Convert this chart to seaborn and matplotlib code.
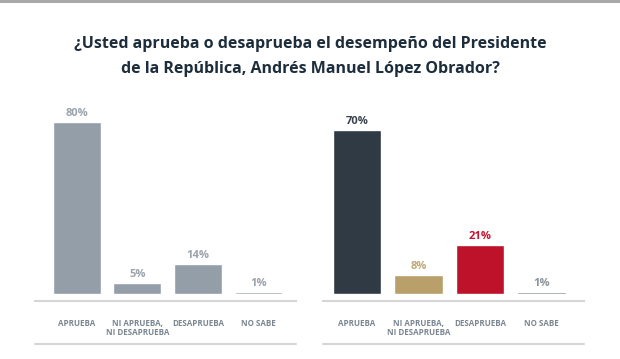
import matplotlib
matplotlib.use("Agg")
import matplotlib.pyplot as plt
import seaborn as sns
import pandas as pd

categorias = ["APRUEBA", "NI APRUEBA,\nNI DESAPRUEBA", "DESAPRUEBA", "NO SABE"]
valores_izq = [80, 5, 14, 1]
valores_der = [70, 8, 21, 1]
etiquetas_izq = ["80%", "5%", "14%", "1%"]
etiquetas_der = ["70%", "8%", "21%", "1%"]

colores_izq = ["#949ea8", "#949ea8", "#949ea8", "#949ea8"]
colores_der = ["#2f3a45", "#b9a06b", "#bd1229", "#7e8791"]
texto_izq = ["#9aa3ac", "#9aa3ac", "#9aa3ac", "#9aa3ac"]
texto_der = ["#3a444e", "#c0a776", "#c8112e", "#8a939c"]

titulo = "¿Usted aprueba o desaprueba el desempeño del Presidente\nde la República, Andrés Manuel López Obrador?"

sns.set_style("white")
plt.rcParams["font.family"] = ["Open Sans", "DejaVu Sans"]

W, H = 620, 359
fig = plt.figure(figsize=(W / 100, H / 100), dpi=100)


def px_axes(x0, x1, y_top, y_bot):
    return fig.add_axes([x0 / W, 1 - y_bot / H, (x1 - x0) / W, (y_bot - y_top) / H])


def panel(ax, valores, etiquetas, colores, colores_txt, xlim, px_unit):
    df = pd.DataFrame({"cat": categorias, "val": valores})
    sns.barplot(data=df, x="cat", y="val", hue="cat", palette=colores,
                width=0.79, legend=False, ax=ax, saturation=1)
    ax.set_xlim(*xlim)
    alto = ax.get_position().height * H
    ax.set_ylim(-7 / px_unit, (alto - 7) / px_unit)
    for cont, txt, c in zip(ax.containers, etiquetas, colores_txt):
        ax.bar_label(cont, labels=[txt], padding=2, color=c,
                     fontsize=8, fontweight="bold")
    for s in ["top", "right", "left"]:
        ax.spines[s].set_visible(False)
    ax.spines["bottom"].set_color("#d6d6d6")
    ax.spines["bottom"].set_linewidth(1.5)
    ax.set_yticks([])
    ax.set_xlabel("")
    ax.set_ylabel("")
    ax.tick_params(axis="x", length=0, pad=13, labelsize=5.8, labelcolor="#7b8691")
    for t in ax.get_xticklabels():
        t.set_fontweight("bold")
        t.set_linespacing(1.05)
    ax.plot([0, 1], [-43 / alto, -43 / alto], transform=ax.transAxes,
            color="#d6d6d6", lw=1.5, clip_on=False)


ax1 = px_axes(35, 296, 101, 301)
panel(ax1, valores_izq, etiquetas_izq, colores_izq, texto_izq, (-0.69, 3.62), 2.15)

ax2 = px_axes(323, 584, 101, 301)
panel(ax2, valores_der, etiquetas_der, colores_der, texto_der, (-0.55, 3.69), 2.35)

fig.text(0.5, 1 - 56.5 / H, titulo, ha="center", va="center", fontsize=11.5,
         fontweight="bold", color="#1d2d3c", linespacing=1.75)

# borde superior gris
fig.add_artist(plt.Rectangle((0, 1 - 3 / H), 1, 3 / H, transform=fig.transFigure,
                             color="#a9a9a9", lw=0))

fig.savefig("out.png", dpi=100)
